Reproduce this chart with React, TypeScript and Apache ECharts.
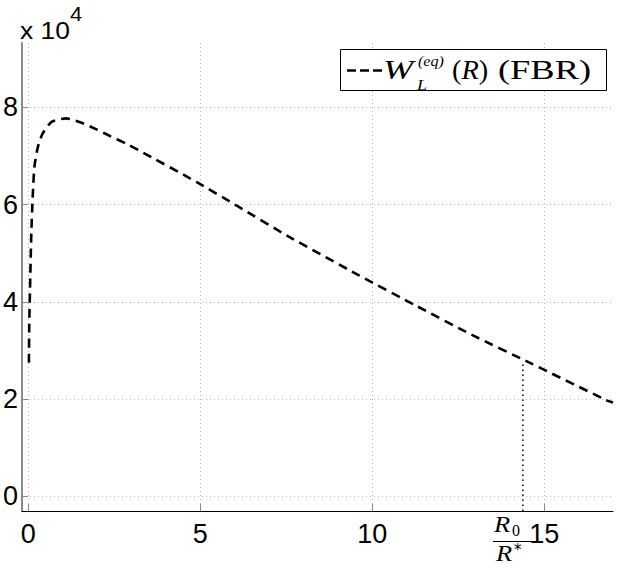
import React, { useEffect, useRef } from "react";
import * as echarts from "echarts";

const rValues = [0.02, 0.03, 0.06, 0.09, 0.13, 0.18, 0.28, 0.42, 0.68, 1.1, 1.55, 2.0, 2.4, 2.85, 3.2, 4.9, 6.1, 7.6, 9.6, 11.3, 12.9, 14.6, 16.8, 17.0];
const wValues = [27500, 35000, 45000, 54000, 61500, 67700, 71800, 74600, 77000, 77700, 76800, 75400, 74000, 72500, 71200, 64600, 59600, 53300, 45500, 39100, 33200, 27400, 19800, 19300];

// R0/R* marker
const r0X = 14.38;
const r0W = 27700;

const xTicks = [0, 5, 10, 15];
const yTicks = [0, 20000, 40000, 60000, 80000];
const xMin = -0.18;
const xMax = 17;
const yMin = -3000;
const yMax = 93200;
const SCALE = 10000;

const serif = "'Liberation Serif'";

export default function App() {
  const ref = useRef<HTMLDivElement>(null);
  useEffect(() => {
    if (!ref.current) return;
    const chart = echarts.init(ref.current, null, { renderer: "svg" });
    const gridLine = { show: true, lineStyle: { color: "#b4b4b4", width: 1, type: [1, 3] as any } };
    chart.setOption({
      animation: false,
      backgroundColor: "#fff",
      grid: { left: 20, right: 10, top: 43, bottom: 57, containLabel: false },
      xAxis: {
        type: "value",
        min: xMin,
        max: xMax,
        axisLine: { show: true, onZero: false, lineStyle: { color: "#000", width: 1 } },
        axisTick: { show: true, inside: true, length: 7, customValues: xTicks, lineStyle: { color: "#888" } },
        axisLabel: {
          customValues: xTicks,
          color: "#000",
          fontSize: 27,
          fontFamily: "Liberation Sans",
          margin: 9,
          formatter: (v: number) => String(v),
        },
        splitLine: gridLine,
      },
      yAxis: {
        type: "value",
        min: yMin,
        max: yMax,
        axisLine: { show: true, onZero: false, lineStyle: { color: "#8a8a8a", width: 2 } },
        axisTick: { show: true, inside: true, length: 6, customValues: yTicks, lineStyle: { color: "#888" } },
        axisLabel: {
          customValues: yTicks,
          color: "#000",
          fontSize: 27,
          fontFamily: "Liberation Sans",
          margin: 4,
          formatter: (v: number) => String(v / SCALE),
        },
        splitLine: gridLine,
      },
      series: [
        {
          type: "line",
          data: rValues.map((r, i) => [r, wValues[i]]),
          showSymbol: false,
          smooth: 0.2,
          lineStyle: { color: "#000", width: 2.6, type: [9, 6] as any },
          silent: true,
        },
        {
          type: "line",
          data: [[r0X, yMin], [r0X, r0W]],
          showSymbol: false,
          lineStyle: { color: "#000", width: 1.5, type: [1.5, 3.5] as any },
          silent: true,
        },
      ],
      graphic: [
        {
          type: "text",
          x: 20,
          y: 30,
          scaleX: 1.1,
          style: { text: "x 10", font: "24px 'Liberation Sans'", fill: "#000", verticalAlign: "middle" },
        },
        {
          type: "text",
          x: 70,
          y: 14,
          scaleX: 1.1,
          style: { text: "4", font: "20px 'Liberation Sans'", fill: "#000", verticalAlign: "middle" },
        },
        {
          type: "rect",
          shape: { x: 340.5, y: 49.5, width: 266, height: 41 },
          style: { fill: "#fff", stroke: "#000", lineWidth: 1 },
          z: 100,
        },
        {
          type: "line",
          shape: { x1: 347, y1: 70.5, x2: 382, y2: 70.5 },
          style: { stroke: "#000", lineWidth: 2.6, lineDash: [9, 4] },
          z: 101,
        },
        {
          type: "text",
          x: 383,
          y: 70,
          scaleX: 1.3,
          style: { text: "W", font: `italic 28px ${serif}`, fill: "#000", verticalAlign: "middle" },
          z: 101,
        },
        {
          type: "text",
          x: 418,
          y: 61,
          scaleX: 1.15,
          style: { text: "(eq)", font: `italic 14px ${serif}`, fill: "#000", verticalAlign: "middle" },
          z: 101,
        },
        {
          type: "text",
          x: 417,
          y: 85,
          scaleX: 1.2,
          style: { text: "L", font: `italic 15px ${serif}`, fill: "#000", verticalAlign: "middle" },
          z: 101,
        },
        {
          type: "text",
          x: 452,
          y: 70,
          scaleX: 1.05,
          style: {
            text: "{n|(}{i|R}{n|)}",
            verticalAlign: "middle",
            rich: {
              n: { font: `27px ${serif}`, fill: "#000" },
              i: { font: `italic 27px ${serif}`, fill: "#000" },
            },
          },
          z: 101,
        },
        {
          type: "text",
          x: 498,
          y: 70,
          scaleX: 1.3,
          style: { text: "(FBR)", font: `28px ${serif}`, fill: "#000", verticalAlign: "middle" },
          z: 101,
        },
        {
          type: "text",
          x: 494,
          y: 524,
          scaleX: 1.15,
          style: { text: "R", font: `italic 23px ${serif}`, fill: "#000", verticalAlign: "middle" },
        },
        {
          type: "text",
          x: 512,
          y: 530,
          style: { text: "0", font: `16px ${serif}`, fill: "#000", verticalAlign: "middle" },
        },
        {
          type: "line",
          shape: { x1: 493, y1: 541.5, x2: 533, y2: 541.5 },
          style: { stroke: "#000", lineWidth: 1 },
        },
        {
          type: "text",
          x: 496,
          y: 553,
          scaleX: 1.15,
          style: { text: "R", font: `italic 23px ${serif}`, fill: "#000", verticalAlign: "middle" },
        },
        {
          type: "text",
          x: 514,
          y: 550,
          style: { text: "*", font: "15px 'DejaVu Sans'", fill: "#000", verticalAlign: "middle" },
        },
      ],
    });
    return () => chart.dispose();
  }, []);
  return <div ref={ref} style={{ width: 623, height: 568, position: "absolute", left: 0, top: 0 }} />;
}
